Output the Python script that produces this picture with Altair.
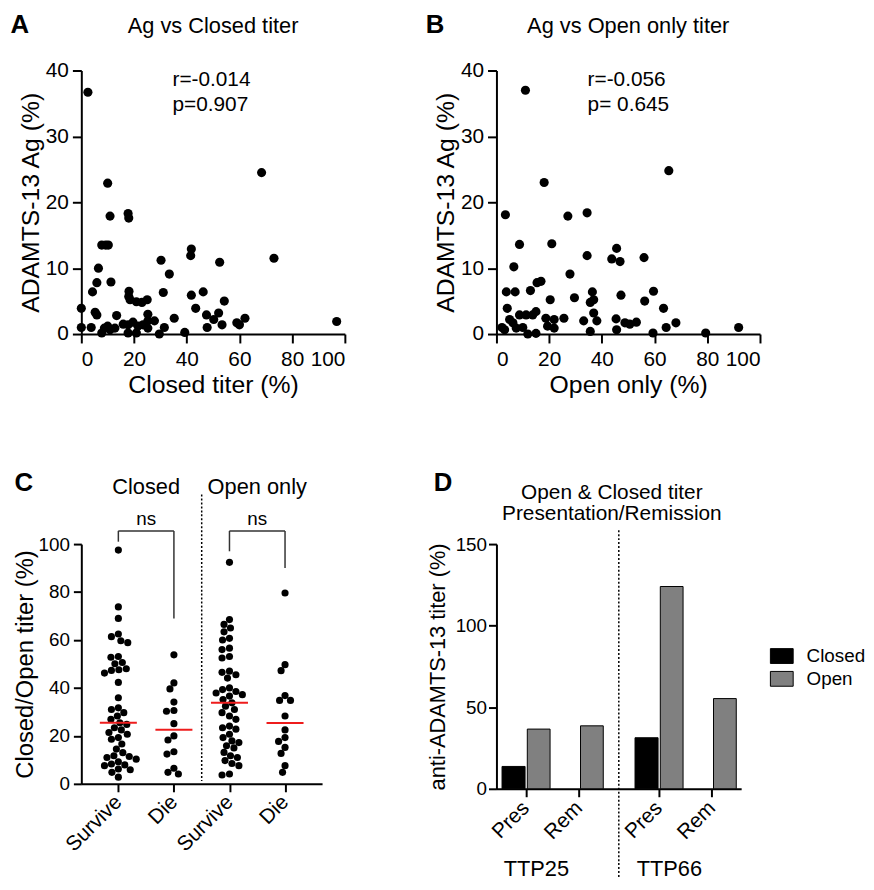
import altair as alt
import pandas as pd

FONT = "Liberation Sans"

# ---------------- Panel A : Ag vs Closed titer ----------------
a_closed_titer = [2.5, 68.4, 10, 10.9, 17.75, 18, 7.75, 9.25, 10.25, 6.5, 73.1, 30.25, 41.75, 41.5,
                  52.5, 33.4, 5.9, 11.25, 4.25, 18.1, 18, 18.5, 20.9, 23, 25, 31.1, 41.75, 46.25, 0,
                  5.25, 5.9, 13.4, 25.25, 43.4, 54.25, 35.25, 47.5, 52.1, 62.1, 59, 0, 3.75, 7.75,
                  8.75, 10, 10.9, 12.75, 15.9, 17.75, 17.75, 19.6, 20.9, 21.5, 23.4, 25.25, 25.25,
                  27.75, 29.6, 31.5, 39.25, 47.75, 50.25, 53.4, 96.9, 60]
a_ag = [36.7, 24.5, 22.9, 17.9, 18.3, 17.6, 13.5, 13.5, 13.5, 10.0, 11.5, 11.2, 12.9, 11.9,
        10.9, 9.1, 7.8, 7.9, 6.4, 6.5, 5.7, 5.2, 4.9, 4.8, 5.2, 6.3, 5.9, 6.4, 3.9,
        3.3, 2.9, 2.8, 3.0, 3.9, 5.0, 2.4, 2.9, 3.2, 2.4, 1.7, 1.0, 1.0, 0.15,
        0.9, 1.2, 0.65, 0.9, 1.5, 1.4, 0.15, 1.8, 0.15, 1.2, 1.4, 2.0, 0.9,
        2.0, 0.0, 1.0, 0.25, 1.0, 2.2, 1.4, 1.9, 1.4]
a_stats = ["r=-0.014", "p=0.907"]

# ---------------- Panel B : Ag vs Open only titer ----------------
b_open_titer = [11, 65.4, 18.1, 3.4, 27.1, 34.4, 8.75, 21, 34.4, 45.6, 43.75, 46.9, 56, 6.6, 27.9,
                15.4, 16.9, 3.75, 7.1, 12.9, 36.4, 59.6, 20.4, 29.6, 35.6, 36.9, 47.25, 56.25, 4.1,
                63.4, 8.75, 11.25, 13.75, 15, 36.9, 5, 6.25, 18.75, 21.9, 25.6, 33.1, 38.1, 45.4,
                48.75, 50.6, 53.1, 68.1, 2.1, 3.1, 7.5, 10, 11.9, 15, 19.4, 21.9, 35.6, 45.6, 64.4,
                59.4, 79.4, 91.9]
b_ag = [37, 24.8, 23, 18.1, 17.9, 18.4, 13.6, 13.7, 11.9, 13.0, 11.4, 11.0, 11.6, 10.2, 9.1,
        7.8, 8.0, 6.4, 6.4, 6.6, 6.4, 6.5, 5.2, 5.5, 4.8, 5.2, 5.9, 5.0, 3.9,
        3.9, 2.9, 2.9, 2.9, 3.4, 3.2, 2.2, 1.7, 2.4, 2.2, 2.4, 2.0, 2.0, 2.3,
        1.7, 1.5, 1.8, 1.7, 1.0, 0.65, 0.9, 1.0, 0.0, 0.1, 1.2, 0.9, 0.4, 0.65, 1.0,
        0.15, 0.15, 1.0]
b_stats = ["r=-0.056", "p= 0.645"]

# ---------------- Panel C : survival groups ----------------
c_closed_survive = [97.5, 73.8, 69, 62.5, 61.4, 59.7, 58.9, 53.1, 52.8, 50.6, 50.1, 48, 47.6, 47.3,
                    46.2, 42.3, 35.9, 31.7, 31, 29.7, 28.3, 26.9, 25.5, 24.8, 23.4, 22.5, 21.4,
                    20.7, 19.3, 18.6, 16.6, 14.5, 13, 11.7, 11.4, 11, 10.3, 9.2, 8.3, 7.9, 7.6,
                    6.2, 5.9, 4.8, 2.8]
c_closed_die = [53.8, 42.1, 39.6, 34.1, 30.6, 30.3, 25.1, 20, 18.3, 13.4, 12.4, 6.5, 4.8, 4.1]
c_open_survive = [92.4, 68.5, 66.5, 65, 63.4, 60.7, 60, 56.6, 56, 53.1, 52.5, 47, 46.5, 45.5, 44.1,
                  40, 39.3, 38.5, 37.9, 37.2, 36.6, 35.2, 33.8, 32.4, 31, 29.7, 28.3, 26.9, 24.1,
                  23.4, 22.8, 20.7, 19.3, 17.9, 17.2, 15.9, 15, 13.1, 11.7, 11, 9.7, 8.5, 7.6,
                  4.1, 3.7]
c_open_die = [79.6, 49.7, 47.2, 36.8, 34.8, 34.8, 28.3, 22.5, 19.3, 17.7, 15.2, 12.7, 7.6, 4.8]
c_group_labels = ["Survive", "Die", "Survive", "Die"]
c_headers = ["Closed", "Open only"]
c_bracket_top = 105.5
c_bracket_legs = [[101, 69], [97, 90]]   # bottom ends of left / right legs
c_bracket_label = "ns"

# ---------------- Panel D : presentation / remission ----------------
d_patient = ["TTP25", "TTP25", "TTP66", "TTP66"]
d_time = ["Pres", "Rem", "Pres", "Rem"]
d_closed = [13.7, 0, 31.3, 0]
d_open = [36.6, 38.6, 124.0, 55.3]
d_series = ["Closed", "Open"]
d_colors = ["#000000", "#808080"]

# ---------------- layout constants ----------------
AW, AH = 266, 266
CW, CH = 243, 242
DW, DH = 247, 247
DUMMY = pd.DataFrame({"k": [0]})


def txt(text, x, y, size=22, weight="normal", align="center", baseline="middle"):
    return alt.Chart(DUMMY).mark_text(
        text=text, font=FONT, fontSize=size, fontWeight=weight, align=align,
        baseline=baseline, color="black").encode(x=alt.value(x), y=alt.value(y))


def scatter_panel(xs, ys, xtitle, title, stats, letter, anchor=False):
    df = pd.DataFrame({"x": xs, "y": ys})
    pts = alt.Chart(df).mark_circle(size=85, color="black", opacity=1).encode(
        x=alt.X("x:Q", scale=alt.Scale(domain=[0, 100], nice=False),
                axis=alt.Axis(values=[0, 20, 40, 60, 80, 100], title=xtitle, labelFontSize=21,
                              titleFontSize=25, labelPadding=6, titlePadding=3, tickSize=9)),
        y=alt.Y("y:Q", scale=alt.Scale(domain=[0, 40], nice=False),
                axis=alt.Axis(values=[0, 10, 20, 30, 40], title="ADAMTS-13 Ag (%)", labelFontSize=21,
                              titleFontSize=25, labelPadding=4, titlePadding=2, tickSize=9)),
    )
    layers = [
        pts,
        txt(title, AW / 2, -45, size=22),
        txt(letter, -62, -46, size=26, weight="bold"),
        txt(stats[0], 92, 10, size=21, align="left"),
        txt(stats[1], 92, 35, size=21, align="left"),
    ]
    if anchor:
        # invisible layout anchor fixing the top-left corner of the whole figure
        layers.append(alt.Chart(DUMMY).mark_rule(opacity=0, strokeWidth=0.2).encode(
            x=alt.value(-74), x2=alt.value(-74), y=alt.value(-59), y2=alt.value(-58)))
    return alt.layer(*layers).properties(width=AW, height=AH)


# ---------- beeswarm layout for panel C ----------
def swarm(values, ypx, d, xpx):
    placed = []
    out = [0.0] * len(values)
    order = sorted(range(len(values)), key=lambda i: -values[i])
    for i in order:
        y = values[i] * ypx
        step = 0
        while True:
            cands = [0.0] if step == 0 else [-step * 0.5, step * 0.5]
            ok = None
            for c in cands:
                if all((c - px) ** 2 + (y - py) ** 2 >= d * d for px, py in placed):
                    ok = c
                    break
            if ok is not None:
                break
            step += 1
        placed.append((ok, y))
        out[i] = ok / xpx
    return out


c_lo, c_hi = 1 / 3, 4 + 2 / 3
c_xpx = CW / (c_hi - c_lo)
c_ypx = CH / 100
rows = []
for gi, vals in enumerate([c_closed_survive, c_closed_die, c_open_survive, c_open_die], start=1):
    offs = swarm(vals, c_ypx, 7.2, c_xpx)
    for v, o in zip(vals, offs):
        rows.append({"g": gi, "v": v, "xp": gi + o})
df_c = pd.DataFrame(rows)

c_label_expr = "[''," + ",".join("'%s'" % s for s in c_group_labels) + "][datum.value]"
c_x = alt.X("xp:Q", scale=alt.Scale(domain=[c_lo, c_hi], nice=False, zero=False),
            axis=alt.Axis(values=[1, 2, 3, 4], labelExpr=c_label_expr, labelAngle=-45,
                          labelAlign="right", labelBaseline="middle",
                          labelFontSize=21, title=None, labelPadding=7, tickSize=8,
                          labelOverlap=False, labelBound=False))
c_y = alt.Y("v:Q", scale=alt.Scale(domain=[0, 100], nice=False),
            axis=alt.Axis(values=[0, 20, 40, 60, 80, 100], title="Closed/Open titer (%)",
                          labelFontSize=19, titleFontSize=24, labelPadding=4, titlePadding=1,
                          tickSize=8))

c_pts = alt.Chart(df_c).mark_circle(size=52, color="black", opacity=1).encode(x=c_x, y=c_y)
c_med = alt.Chart(df_c).transform_aggregate(med="median(v)", groupby=["g"]).transform_calculate(
    x1="datum.g - 0.333", x2="datum.g + 0.333").mark_rule(color="#ee1c1c", strokeWidth=2).encode(
    x="x1:Q", x2="x2:Q", y="med:Q")

br_rows = []
for k, (lb, rb) in enumerate(c_bracket_legs):
    g1, g2 = 2 * k + 1, 2 * k + 2
    br_rows += [{"x": g1, "x2": g1, "y": lb, "y2": c_bracket_top},
                {"x": g1, "x2": g2, "y": c_bracket_top, "y2": c_bracket_top},
                {"x": g2, "x2": g2, "y": c_bracket_top, "y2": rb}]
c_br = alt.Chart(pd.DataFrame(br_rows)).mark_rule(color="#333333", strokeWidth=1.5).encode(
    x="x:Q", x2="x2:Q", y="y:Q", y2="y2:Q")

hdr = pd.DataFrame({"xc": [1.5, 3.5], "h": c_headers, "ns": [c_bracket_label] * 2})
c_hdr = alt.Chart(hdr).mark_text(font=FONT, fontSize=22, color="black").encode(
    x="xc:Q", y=alt.value(-58), text="h:N")
c_ns = alt.Chart(hdr).mark_text(font=FONT, fontSize=19, color="black").encode(
    x="xc:Q", y=alt.value(-25), text="ns:N")
c_sep = alt.Chart(DUMMY).mark_rule(color="black", strokeDash=[2, 2], strokeWidth=1.5).encode(
    x=alt.datum(len(c_group_labels) / 2 + 0.5), y=alt.value(-50), y2=alt.value(CH - 3))

panel_c = alt.layer(c_sep, c_br, c_pts, c_med, c_hdr, c_ns,
                    txt("C", -58, -62, size=26, weight="bold")).properties(width=CW, height=CH)

# ---------- Panel D ----------
GROUP_GAP = 0.5
pats = list(dict.fromkeys(d_patient))
pos = [i + 1 + pats.index(p) * GROUP_GAP for i, p in enumerate(d_patient)]
d_rows = []
for c, o, x in zip(d_closed, d_open, pos):
    d_rows.append({"series": "Closed", "v": c, "x1": x - 0.445, "x2": x - 0.012, "z": 0})
    d_rows.append({"series": "Open", "v": o, "x1": x + 0.03, "x2": x + 0.458, "z": 0})
df_d = pd.DataFrame(d_rows)
d_lo, d_hi = 0.45, 5.05
d_label_expr = " : ".join("datum.value == %g ? '%s'" % (x, t) for x, t in zip(pos, d_time)) + " : ''"

d_bars = alt.Chart(df_d).transform_filter("datum.v > 0").mark_rect(
    stroke="black", strokeWidth=1).encode(
    x=alt.X("x1:Q", scale=alt.Scale(domain=[d_lo, d_hi], nice=False, zero=False),
            axis=alt.Axis(values=pos, labelExpr=d_label_expr, labelAngle=-45,
                          labelAlign="right", labelBaseline="middle",
                          labelFontSize=21, title=None, labelPadding=8, tickSize=8,
                          labelOverlap=False, labelBound=False)),
    x2="x2:Q",
    y=alt.Y("v:Q", scale=alt.Scale(domain=[0, 150], nice=False),
            axis=alt.Axis(values=[0, 50, 100, 150], title="anti-ADAMTS-13 titer (%)",
                          labelFontSize=19, titleFontSize=22, labelPadding=2, titlePadding=6,
                          tickSize=8)),
    y2="z:Q",
    color=alt.Color("series:N", scale=alt.Scale(domain=d_series, range=d_colors),
                    legend=alt.Legend(orient="none", legendX=276, legendY=101, title=None,
                                      symbolType="M-1,-0.65L1,-0.65L1,0.65L-1,0.65Z",
                                      symbolSize=529, symbolStrokeColor="black",
                                      symbolStrokeWidth=1, labelFontSize=19, labelFont=FONT,
                                      labelColor="black", labelOffset=13, rowPadding=1,
                                      padding=0, symbolOpacity=1)),
)
grp = pd.DataFrame({"p": pats,
                    "xc": [sum(x for x, q in zip(pos, d_patient) if q == p) /
                           d_patient.count(p) - 0.3 for p in pats]})
d_grp = alt.Chart(grp).mark_text(font=FONT, fontSize=22, color="black").encode(
    x="xc:Q", y=alt.value(328), text="p:N")
d_sep = alt.Chart(DUMMY).mark_rule(color="black", strokeDash=[2, 2], strokeWidth=1.5).encode(
    x=alt.datum((pos[1] + pos[2]) / 2), y=alt.value(-14), y2=alt.value(336))

panel_d = alt.layer(
    d_sep, d_bars, d_grp,
    txt("Open & Closed titer", DW / 2 - 7, -52, size=21),
    txt("Presentation/Remission", DW / 2 - 7, -30, size=21),
    txt("D", -54, -62, size=26, weight="bold"),
).properties(width=DW, height=DH)

panel_a = scatter_panel(a_closed_titer, a_ag, "Closed titer (%)", "Ag vs Closed titer", a_stats,
                        "A", anchor=True)
panel_b = scatter_panel(b_open_titer, b_ag, "Open only (%)", "Ag vs Open only titer", b_stats, "B")

chart = alt.concat(panel_a, panel_b, panel_c, panel_d, columns=2,
                   spacing={"row": 212, "column": 153}, bounds="flush").resolve_scale(
    color="independent").properties(padding=0).configure_view(stroke=None).configure_axis(
    domainColor="black", domainWidth=2, tickColor="black", tickWidth=2, grid=False,
    labelFont=FONT, titleFont=FONT, titleFontWeight="normal", labelColor="black",
    titleColor="black"
)

chart.save("out.html", embed_options={"renderer": "svg", "actions": False})
